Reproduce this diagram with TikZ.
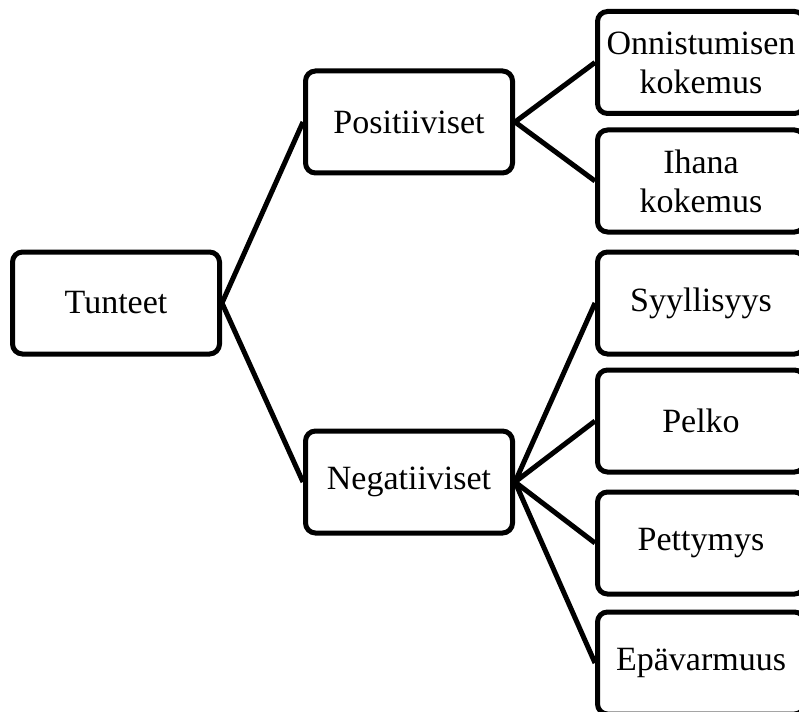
\documentclass[tikz,border=0pt]{standalone}
\usepackage{fontspec}
\setmainfont{Liberation Serif}
\begin{document}
\begin{tikzpicture}[x=1pt,y=-1pt,
  box/.style={draw=black, line width=5pt, rounded corners=10pt, fill=white,
    minimum width=207pt, minimum height=102pt, inner sep=0pt, align=center,
    font=\fontsize{34}{39}\selectfont},
  link/.style={draw=black, line width=5pt, line join=round}]
\useasboundingbox (0,0) rectangle (799,711);
% tree nodes
\node[box] (root) at (116,303) {Tunteet};
\node[box] (pos) at (409,122) {Positiiviset};
\node[box] (neg) at (409,482) {Negatiiviset};
\node[box] (onn) at (701,62.5) {Onnistumisen\\kokemus};
\node[box] (iha) at (701,181) {Ihana\\kokemus};
\node[box] (syy) at (701,303) {Syyllisyys};
\node[box] (pel) at (701,421) {Pelko};
\node[box] (pet) at (701,543) {Pettymys};
\node[box] (epa) at (701,663) {Epävarmuus};
% connectors
\path[link] (pos.west) -- (root.east) -- (neg.west);
\path[link] (onn.west) -- (pos.east) -- (iha.west);
\path[link] (syy.west) -- (neg.east) -- (pel.west);
\path[link] (pet.west) -- (neg.east) -- (epa.west);
\end{tikzpicture}
\end{document}
